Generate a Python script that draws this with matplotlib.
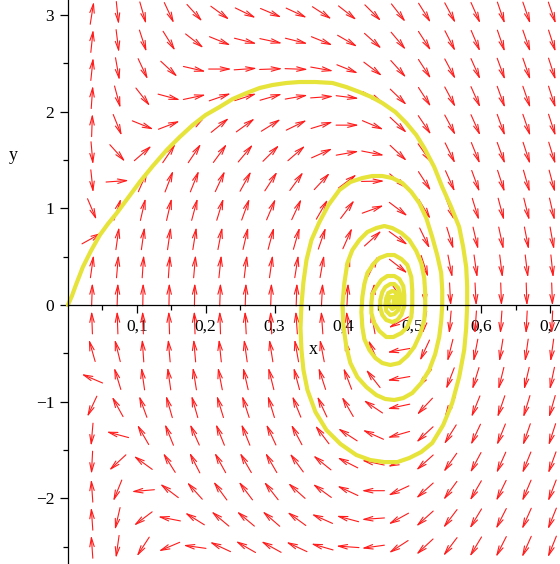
import math
import matplotlib
matplotlib.use('Agg')
import matplotlib.pyplot as plt
from matplotlib.text import OffsetFrom

# direction field grid (data coordinates)
x_grid = [0.035, 0.072, 0.109, 0.147, 0.184, 0.221, 0.258, 0.295, 0.332, 0.369,
          0.406, 0.443, 0.480, 0.518, 0.555, 0.592, 0.629, 0.666, 0.703]
y_grid = [3.02, 2.73, 2.44, 2.15, 1.86, 1.57, 1.28, 0.99, 0.69, 0.40,
          0.11, -0.18, -0.47, -0.76, -1.05, -1.34, -1.63, -1.92, -2.21, -2.50]

# arrow direction on screen, degrees counter-clockwise from +x (one row per y_grid value)
arrow_angle = [
    [81, -84, -74, -65, -48, -36, -26, -23, -25, -33, -38, -45, -52, -58, -62, -66, -71, -71, -71],
    [84, -83, -72, -58, -38, -22, -14, -12, -14, -22, -30, -42, -50, -57, -63, -67, -71, -71, -72],
    [84, -80, -65, -43, -13, 0, 4, 2, -2, -10, -22, -37, -48, -57, -62, -66, -70, -71, -72],
    [86, -75, -52, -15, 12, 19, 18, 16, 10, 4, -7, -28, -44, -57, -62, -66, -70, -71, -72],
    [88, -68, -22, 21, 36, 39, 36, 32, 26, 17, 0, -23, -43, -56, -62, -66, -70, -71, -72],
    [-85, -48, 41, 56, 56, 54, 50, 45, 41, 24, 10, -11, -43, -55, -64, -68, -70, -72, -73],
    [-84, 4, 66, 69, 68, 65, 61, 57, 54, 47, 37, 1, -40, -57, -66, -70, -72, -74, -75],
    [-67, 72, 77, 77, 75, 73, 70, 67, 65, 60, 53, 20, -37, -59, -69, -73, -75, -76, -77],
    [29, 82, 82, 82, 81, 79, 77, 75, 74, 71, 66, 42, -36, -64, -73, -77, -78, -79, -80],
    [82, 85, 86, 86, 85, 84, 83, 82, 81, 80, 77, 64, -38, -72, -79, -82, -83, -83, -84],
    [88, 88, 89, 89, 89, 88, 88, 88, 88, 87, 87, 83, -57, -84, -87, -87, -88, -88, -88],
    [92, 92, 92, 92, 92, 92, 93, 93, 94, 94, 95, 100, 209, 260, 265, 266, 266, 267, 267],
    [106, 104, 94, 95, 95, 96, 98, 99, 100, 101, 103, 114, 190, 245, 256, 259, 261, 262, 262],
    [157, 107, 98, 98, 99, 101, 103, 104, 105, 108, 111, 128, 190, 233, 249, 253, 256, 257, 258],
    [245, 119, 110, 106, 106, 107, 108, 107, 112, 115, 120, 146, 192, 227, 242, 248, 251, 253, 254],
    [265, 165, 120, 112, 114, 112, 112, 115, 118, 127, 147, 156, 196, 223, 238, 245, 248, 251, 252],
    [267, 223, 144, 122, 117, 119, 120, 120, 126, 141, 153, 168, 201, 222, 235, 242, 246, 248, 250],
    [94, 248, 185, 143, 132, 126, 127, 128, 138, 144, 155, 180, 205, 222, 234, 240, 244, 247, 249],
    [94, 257, 217, 169, 148, 140, 140, 139, 144, 156, 165, 184, 209, 222, 233, 239, 243, 246, 248],
    [94, 262, 237, 203, 172, 155, 150, 151, 155, 164, 176, 188, 213, 223, 233, 239, 243, 246, 248],
]

# solution curve starting at the origin
traj_x = [0.0, 0.0058, 0.0116, 0.0217, 0.0333, 0.0464, 0.0580, 0.0710, 0.0870, 0.1043,
          0.1232, 0.1435, 0.1623, 0.1812, 0.2000, 0.2203, 0.2391, 0.2594, 0.2783, 0.2971,
          0.3174, 0.3362, 0.3594, 0.3841, 0.4043, 0.4232, 0.4406, 0.4565, 0.4754, 0.4913,
          0.5058, 0.5174, 0.5319, 0.5435, 0.5565, 0.5681, 0.5739, 0.5783, 0.5797, 0.5797,
          0.5783, 0.5754, 0.5681, 0.5580, 0.5449, 0.5290, 0.5130, 0.4957, 0.4783, 0.4594,
          0.4391, 0.4188, 0.3957, 0.3754, 0.3594, 0.3478, 0.3420, 0.3391, 0.3377, 0.3391,
          0.3420, 0.3464, 0.3536, 0.3652, 0.3783, 0.3942, 0.4101, 0.4275, 0.4420, 0.4565,
          0.4710, 0.4855, 0.4986, 0.5101, 0.5203, 0.5290, 0.5362, 0.5420, 0.5435, 0.5435,
          0.5420, 0.5391, 0.5333, 0.5246, 0.5130, 0.5000, 0.4870, 0.4739, 0.4609, 0.4478,
          0.4333, 0.4203, 0.4101, 0.4043, 0.4000, 0.3986, 0.4014, 0.4058, 0.4130, 0.4232,
          0.4348, 0.4478, 0.4594, 0.4710, 0.4841, 0.4957, 0.5058, 0.5130, 0.5174, 0.5188,
          0.5188, 0.5174, 0.5116, 0.5029, 0.4928, 0.4812, 0.4681, 0.4565, 0.4464, 0.4377,
          0.4304, 0.4275, 0.4261, 0.4275, 0.4304, 0.4348, 0.4435, 0.4522, 0.4638, 0.4739,
          0.4841, 0.4928, 0.4986, 0.5000, 0.5000, 0.4986, 0.4928, 0.4841, 0.4725, 0.4623,
          0.4522, 0.4449, 0.4406, 0.4406, 0.4420, 0.4478, 0.4551, 0.4638, 0.4739, 0.4812,
          0.4870, 0.4884, 0.4884, 0.4841, 0.4783, 0.4710, 0.4623, 0.4565, 0.4536, 0.4536,
          0.4565, 0.4609, 0.4681, 0.4739, 0.4797, 0.4826, 0.4826, 0.4797, 0.4739, 0.4681,
          0.4623, 0.4609, 0.4623, 0.4652, 0.4710, 0.4754, 0.4783, 0.4783, 0.4754, 0.4710,
          0.4667, 0.4652, 0.4681, 0.4725, 0.4739, 0.4725]
traj_y = [0.0, 0.093, 0.207, 0.393, 0.558, 0.724, 0.838, 0.951, 1.106, 1.272,
          1.437, 1.603, 1.737, 1.861, 1.965, 2.048, 2.130, 2.192, 2.244, 2.275,
          2.296, 2.306, 2.306, 2.296, 2.254, 2.203, 2.151, 2.089, 1.996, 1.882,
          1.758, 1.624, 1.427, 1.220, 1.013, 0.807, 0.600, 0.393, 0.196, 0.0,
          -0.238, -0.465, -0.745, -1.013, -1.241, -1.427, -1.520, -1.582, -1.624, -1.624,
          -1.603, -1.551, -1.437, -1.293, -1.106, -0.879, -0.672, -0.465, -0.238, 0.0,
          0.238, 0.465, 0.672, 0.858, 1.034, 1.189, 1.272, 1.313, 1.334, 1.334,
          1.313, 1.262, 1.169, 1.055, 0.900, 0.703, 0.517, 0.331, 0.155, 0.0,
          -0.165, -0.331, -0.507, -0.672, -0.807, -0.910, -0.962, -0.982, -0.972, -0.931,
          -0.848, -0.745, -0.600, -0.434, -0.217, 0.0, 0.228, 0.434, 0.569, 0.672,
          0.755, 0.796, 0.817, 0.796, 0.745, 0.672, 0.558, 0.434, 0.279, 0.124,
          -0.021, -0.155, -0.300, -0.434, -0.527, -0.600, -0.620, -0.600, -0.548, -0.465,
          -0.352, -0.228, -0.072, 0.083, 0.217, 0.331, 0.424, 0.486, 0.517, 0.517,
          0.476, 0.414, 0.290, 0.155, 0.010, -0.124, -0.228, -0.290, -0.331, -0.331,
          -0.269, -0.186, -0.083, 0.021, 0.114, 0.186, 0.259, 0.300, 0.300, 0.269,
          0.196, 0.103, -0.010, -0.103, -0.155, -0.176, -0.155, -0.103, -0.031, 0.052,
          0.134, 0.186, 0.217, 0.217, 0.176, 0.103, 0.021, -0.052, -0.093, -0.103,
          -0.062, 0.0, 0.072, 0.124, 0.145, 0.134, 0.083, 0.021, -0.021, -0.041,
          -0.010, 0.041, 0.083, 0.083, 0.052, 0.010]

xticks = [0.1, 0.2, 0.3, 0.4, 0.5, 0.6, 0.7]
xtick_labels = ['0,1', '0,2', '0,3', '0,4', '0,5', '0,6', '0,7']
yticks = [-2, -1, 0, 1, 2, 3]
ytick_labels = ['\u22122', '\u22121', '0', '1', '2', '3']

plt.rcParams['font.family'] = ['Liberation Serif', 'DejaVu Serif']

fig = plt.figure(figsize=(5.6, 5.64), dpi=100)
ax = fig.add_axes([0, 0, 1, 1])
ax.set_xlim(-0.0986, 0.7145)
ax.set_ylim(-2.678, 3.154)

# arrows of the direction field, fixed length on screen
L = 16.5  # points
for j, yv in enumerate(y_grid):
    for i, xv in enumerate(x_grid):
        ang = math.radians(arrow_angle[j][i])
        dx = 0.5 * L * math.cos(ang)
        dy = 0.5 * L * math.sin(ang)
        ref = OffsetFrom(ax.transData, (xv, yv), unit='points')
        ax.annotate('', xy=(dx, dy), xycoords=ref, xytext=(-dx, -dy), textcoords=ref,
                    arrowprops=dict(arrowstyle='->,head_length=0.65,head_width=0.16',
                                    color='#ff1a1a', lw=0.8, shrinkA=0, shrinkB=0,
                                    mutation_scale=10),
                    zorder=2)

# solution curve sits under the axes and tick labels
ax.plot(traj_x, traj_y, color='#e6e33a', lw=3.0, solid_capstyle='round',
        solid_joinstyle='round', zorder=2.2)

# axes through the origin
for s in ['top', 'right']:
    ax.spines[s].set_visible(False)
ax.spines['left'].set_position(('data', 0))
ax.spines['bottom'].set_position(('data', 0))
ax.spines['bottom'].set_bounds(0, 0.7145)
ax.spines['left'].set_linewidth(0.9)
ax.spines['bottom'].set_linewidth(0.9)
ax.patch.set_visible(False)

ax.set_xticks(xticks)
ax.set_xticklabels(xtick_labels)
ax.set_yticks(yticks)
ax.set_yticklabels(ytick_labels)
ax.set_xticks([0.05, 0.15, 0.25, 0.35, 0.45, 0.55, 0.65], minor=True)
ax.set_yticks([-2.5, -1.5, -0.5, 0.5, 1.5, 2.5], minor=True)
ax.tick_params(which='major', direction='out', length=5.8, width=0.9, labelsize=12.5, pad=4)
ax.tick_params(which='minor', direction='out', length=3.6, width=0.9)

ax.text(0.357, -0.465, 'x', fontsize=13, ha='center', va='center', zorder=4)
ax.text(-0.080, 1.55, 'y', fontsize=13, ha='center', va='center')

fig.savefig('out.png', dpi=100)
